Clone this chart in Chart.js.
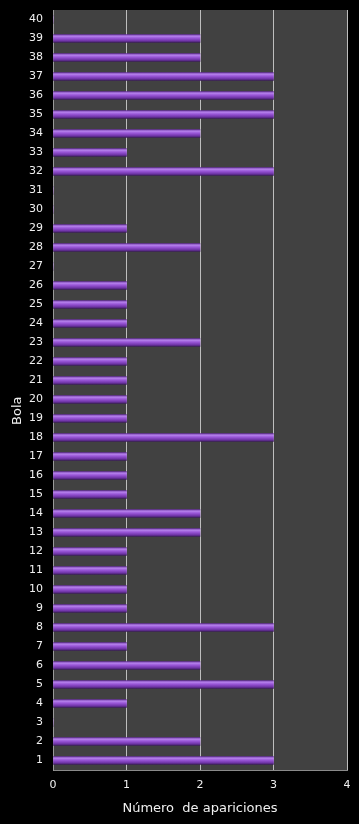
<!DOCTYPE html>
<html><head><meta charset="utf-8">
<script src="https://cdn.jsdelivr.net/npm/chart.js@4/dist/chart.umd.min.js"></script>
<style>html,body{margin:0;padding:0;background:#000;}canvas{display:block;}</style>
</head><body>
<canvas id="c" width="359" height="824"></canvas>
<script>
const categories = ['1','2','3','4','5','6','7','8','9','10','11','12','13','14','15','16','17','18','19','20','21','22','23','24','25','26','27','28','29','30','31','32','33','34','35','36','37','38','39','40'];
const apariciones = [3,2,0,1,3,2,1,3,1,1,1,1,2,2,1,1,1,3,1,1,1,1,2,1,1,1,0,2,1,0,0,3,1,2,3,3,3,2,2,0];
const xTicks = [0,1,2,3,4];

const bgPlugin = {
  id:'bg',
  beforeDraw(chart){
    const {ctx, chartArea:a} = chart;
    ctx.save();
    ctx.fillStyle = '#000';
    ctx.fillRect(0,0,chart.width,chart.height);
    ctx.fillStyle = '#414141';
    ctx.fillRect(a.left,a.top,a.right-a.left,a.bottom-a.top);
    ctx.restore();
  }
};

function barFill(ctx){
  const chart = ctx.chart;
  const ys = chart.scales && chart.scales.y;
  if(!ys || ctx.dataIndex === undefined) return '#8a46c9';
  const y = ys.getPixelForValue(ctx.dataIndex);
  if(!isFinite(y)) return '#8a46c9';
  const g = chart.ctx.createLinearGradient(0,y-4,0,y+4);
  g.addColorStop(0,'#6a34a0');
  g.addColorStop(0.2,'#b683ec');
  g.addColorStop(0.45,'#9a57d8');
  g.addColorStop(0.8,'#6e33a6');
  g.addColorStop(1,'#3e1e5e');
  return g;
}

new Chart(document.getElementById('c'),{
  type:'bar',
  data:{labels:categories,datasets:[{data:apariciones,backgroundColor:barFill,barThickness:8,borderWidth:0}]},
  options:{
    indexAxis:'y',
    responsive:false,
    animation:false,
    layout:{padding:{top:10,right:12,bottom:0,left:0}},
    plugins:{legend:{display:false},tooltip:{enabled:false}},
    scales:{
      x:{
        min:0,max:4,
        afterBuildTicks(s){s.ticks = xTicks.map(v=>({value:v}));},
        grid:{color:'#bdbdbd',lineWidth:1,drawTicks:false},
        border:{display:true,color:'#8a8a8a'},
        ticks:{color:'#f0f0f0',font:{family:'DejaVu Sans',size:11},padding:9},
        title:{display:true,text:'Número  de apariciones',color:'#f0f0f0',font:{family:'DejaVu Sans',size:13},padding:{top:5,bottom:8}},
        afterFit(s){s.height=54;s.paddingLeft=0;s.paddingRight=0;}
      },
      y:{
        reverse:true,
        grid:{display:false,drawTicks:false},
        border:{display:true,color:'#9a9a9a'},
        ticks:{color:'#f0f0f0',font:{family:'DejaVu Sans',size:11},padding:10,autoSkip:false},
        title:{display:true,text:'Bola          ',color:'#f0f0f0',font:{family:'DejaVu Sans',size:13},padding:{top:10,bottom:0}},
        afterFit(s){s.width=53;s.paddingTop=0;s.paddingBottom=0;}
      }
    }
  },
  plugins:[bgPlugin]
});
</script>
</body></html>
